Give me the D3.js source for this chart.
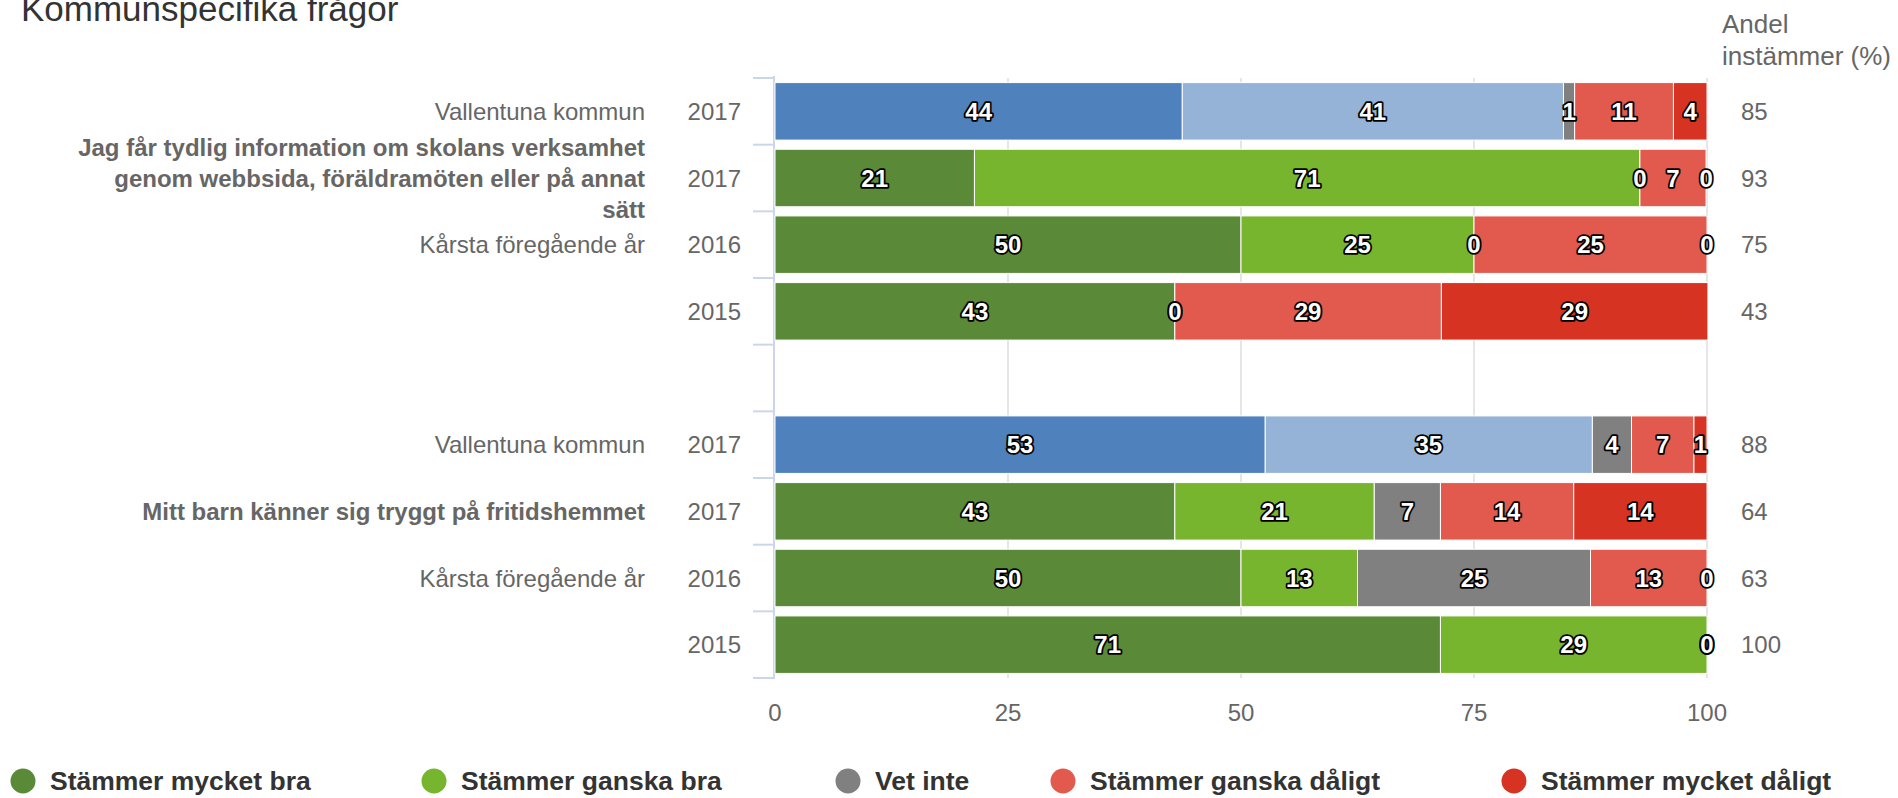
<!DOCTYPE html>
<html><head><meta charset="utf-8">
<script src="https://cdn.jsdelivr.net/npm/d3@7/dist/d3.min.js"></script>
<style>
html,body{margin:0;padding:0;background:#fff;overflow:hidden;}
svg{display:block;font-family:"Liberation Sans",Arial,Helvetica,sans-serif;}
</style></head><body>
<svg id="chart" width="1898" height="798"></svg>
<script>
// ---------------- data ----------------
const chartTitle = "Kommunspecifika frågor";
const rightHeader = ["Andel", "instämmer (%)"];
const seriesNames = ["Stämmer mycket bra", "Stämmer ganska bra", "Vet inte", "Stämmer ganska dåligt", "Stämmer mycket dåligt"];
const rowKeys = ["q1_kommun", "q1_2017", "q1_2016", "q1_2015", "gap", "q2_kommun", "q2_2017", "q2_2016", "q2_2015"];
const rowLabels = ["Vallentuna kommun",
  "Jag får tydlig information om skolans verksamhet genom webbsida, föräldramöten eller på annat sätt",
  "Kårsta föregående år", "", "", "Vallentuna kommun",
  "Mitt barn känner sig tryggt på fritidshemmet", "Kårsta föregående år", ""];
const rowIsQuestion = [false, true, false, false, false, false, true, false, false];
const rowIsKommun = [true, false, false, false, false, true, false, false, false];
const yearLabels = ["2017", "2017", "2016", "2015", "", "2017", "2017", "2016", "2015"];
const stammerMycketBra    = [43.7, 21.4, 50, 42.9, null, 52.6, 42.9, 50,   71.4];
const stammerGanskaBra    = [40.9, 71.4, 25,  0,   null, 35.1, 21.4, 12.5, 28.6];
const vetInte             = [1.2,  0,    0,   0,   null, 4.2,  7.1,  25,   0];
const stammerGanskaDaligt = [10.6, 7.1,  25,  28.6, null, 6.7, 14.3, 12.5, 0];
const stammerMycketDaligt = [3.6,  0,    0,   28.6, null, 1.4, 14.3, 0,    0];
const andelInstammer = [85, 93, 75, 43, null, 88, 64, 63, 100];
const xTickValues = [0, 25, 50, 75, 100];

// ---------------- style ----------------
const seriesColors = ["#5a8a38", "#77b52f", "#808080", "#e25a4e", "#d63323"];
const kommunColors = ["#4f81bd", "#95b3d7"];
const legendCx = [23, 434, 848, 1063, 1514];
const labelFont = 24;

const svg = d3.select("#chart");
const series = [stammerMycketBra, stammerGanskaBra, vetInte, stammerGanskaDaligt, stammerMycketDaligt];

const x = d3.scaleLinear().domain([0, 100]).range([775, 1707]);
const y = d3.scaleBand().domain(rowKeys).range([78, 678]).paddingInner(0.1375).paddingOuter(0.07);

// title
svg.append("text").attr("x", 21).attr("y", 21).attr("font-size", 35).attr("fill", "#333")
  .text(chartTitle);

// right header
rightHeader.forEach((t, i) => {
  svg.append("text").attr("x", 1722).attr("y", 33 + i * 32).attr("font-size", 26).attr("fill", "#666").text(t);
});

// gridlines
const g = svg.append("g");
g.selectAll("line.grid").data(xTickValues.filter(v => v > 0)).join("line")
  .attr("x1", d => x(d)).attr("x2", d => x(d)).attr("y1", 78).attr("y2", 678)
  .attr("stroke", "#e6e6e6").attr("stroke-width", 2);

// left axis line and ticks at band boundaries
g.append("line").attr("x1", 774).attr("x2", 774).attr("y1", 76).attr("y2", 679)
  .attr("stroke", "#ccd6eb").attr("stroke-width", 2);
const step = 600 / rowKeys.length;
const boundaries = d3.range(rowKeys.length + 1).map(i => 78 + i * step);
g.selectAll("line.tick").data(boundaries).join("line")
  .attr("x1", 753).attr("x2", 774).attr("y1", d => d).attr("y2", d => d)
  .attr("stroke", "#ccd6eb").attr("stroke-width", 2);

// bars
const rowCenter = k => 78 + rowKeys.indexOf(k) * step + step / 2;
const barH = y.bandwidth();
rowKeys.forEach((k, ri) => {
  if (series[0][ri] == null) return;
  let cum = 0;
  const cy = rowCenter(k);
  const segs = series.map((s, si) => {
    const v = s[ri]; const x0 = cum; cum += v;
    const color = (rowIsKommun[ri] && si < 2) ? kommunColors[si] : seriesColors[si];
    return {v, x0, x1: cum, color};
  });
  svg.append("g").selectAll("rect").data(segs).join("rect")
    .attr("x", d => x(d.x0)).attr("width", d => Math.max(0, x(d.x1) - x(d.x0)))
    .attr("y", cy - barH / 2).attr("height", barH)
    .attr("fill", d => d.color).attr("stroke", "#fff").attr("stroke-width", 1);
  svg.append("g").selectAll("text").data(segs).join("text")
    .attr("x", d => (x(d.x0) + x(d.x1)) / 2).attr("y", cy + 0.358 * 24)
    .attr("text-anchor", "middle").attr("font-size", 24).attr("font-weight", "bold")
    .attr("fill", "#fff").attr("stroke", "#000").attr("stroke-width", 3.6)
    .attr("stroke-linejoin", "round").attr("paint-order", "stroke")
    .text(d => Math.round(d.v));
  // right value
  svg.append("text").attr("x", 1741).attr("y", cy + 0.358 * labelFont).attr("font-size", labelFont)
    .attr("fill", "#666").text(andelInstammer[ri]);
  // year
  svg.append("text").attr("x", 741).attr("y", cy + 0.358 * labelFont).attr("font-size", labelFont)
    .attr("text-anchor", "end").attr("fill", "#666").text(yearLabels[ri]);
  // row label
  const lbl = rowLabels[ri];
  if (!lbl) return;
  const t = svg.append("text").attr("text-anchor", "end").attr("font-size", labelFont).attr("fill", "#666")
    .attr("font-weight", rowIsQuestion[ri] ? "bold" : "normal");
  const words = lbl.split(" ");
  const lines = [];
  let cur = [];
  const probe = t.append("tspan");
  words.forEach(w => {
    const test = cur.concat([w]).join(" ");
    probe.text(test);
    if (probe.node().getComputedTextLength() > 580 && cur.length) { lines.push(cur.join(" ")); cur = [w]; }
    else cur.push(w);
  });
  lines.push(cur.join(" "));
  probe.remove();
  const lh = 31;
  const startY = cy - (lines.length - 1) * lh / 2 + 0.358 * labelFont;
  lines.forEach((ln, li) => {
    t.append("tspan").attr("x", 645).attr("y", startY + li * lh).text(ln);
  });
});

// x axis labels
svg.append("g").selectAll("text").data(xTickValues).join("text")
  .attr("x", d => x(d)).attr("y", 721).attr("text-anchor", "middle")
  .attr("font-size", labelFont).attr("fill", "#666").text(d => d);

// legend
const lg = svg.append("g");
seriesNames.forEach((n, i) => {
  lg.append("circle").attr("cx", legendCx[i]).attr("cy", 781).attr("r", 12.5).attr("fill", seriesColors[i]);
  lg.append("text").attr("x", legendCx[i] + 27).attr("y", 781 + 0.358 * 26.5).attr("font-size", 26.5)
    .attr("font-weight", "bold").attr("fill", "#333").text(n);
});
</script>
</body></html>
